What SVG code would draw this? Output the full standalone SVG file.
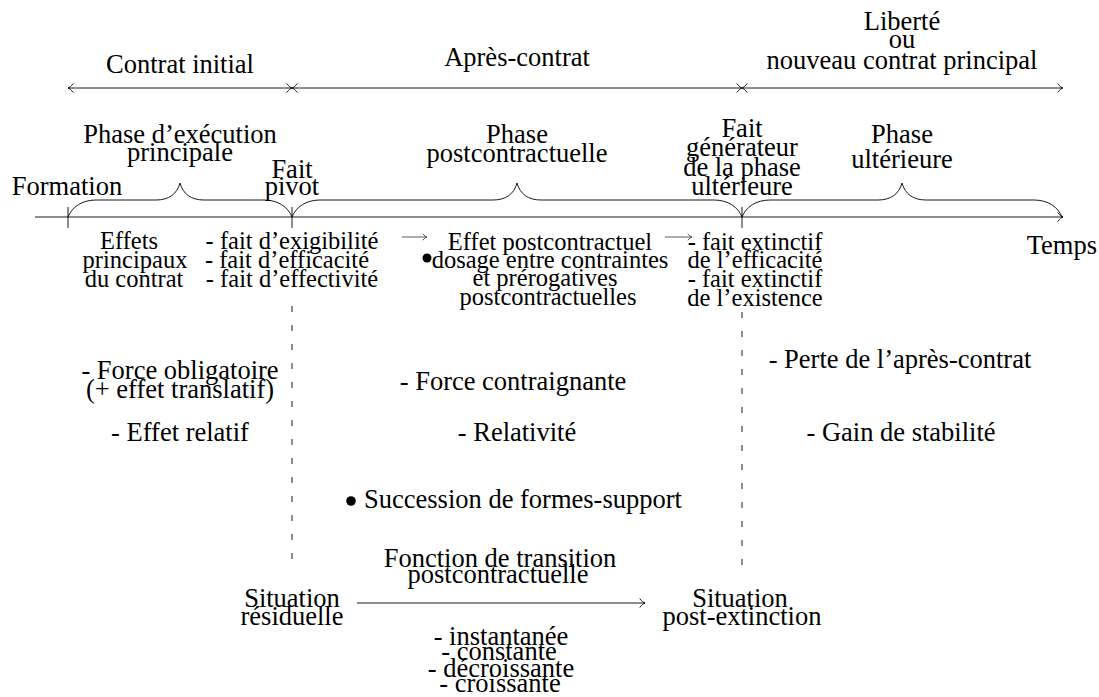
<svg xmlns="http://www.w3.org/2000/svg" width="1099" height="697" viewBox="0 0 1099 697">
<defs>
<marker id="to" viewBox="-7 -6 9 12" markerWidth="9" markerHeight="12" refX="0" refY="0" orient="auto-start-reverse" markerUnits="userSpaceOnUse">
<path d="M-5,-4.2 C-3.2,-1.6 -1.2,-0.4 0,0 C-1.2,0.4 -3.2,1.6 -5,4.2" fill="none" stroke="#000" stroke-width="0.9" stroke-linecap="round"/>
</marker>
<marker id="sm" viewBox="-6 -5 8 10" markerWidth="8" markerHeight="10" refX="0" refY="0" orient="auto" markerUnits="userSpaceOnUse">
<path d="M-4,-3 C-2.6,-1.2 -1,-0.3 0,0 C-1,0.3 -2.6,1.2 -4,3" fill="none" stroke="#333" stroke-width="0.8" stroke-linecap="round"/>
</marker>
</defs>
<style>
text{font-family:"Liberation Serif","Times New Roman",serif;font-size:26.5px;fill:#000;text-anchor:middle}
.s text{font-size:24.5px}
.ln{fill:none;stroke:#000;stroke-width:0.9}
.sm{fill:none;stroke:#333;stroke-width:0.8}
.dash{fill:none;stroke:#000;stroke-width:0.9;stroke-dasharray:6 13}
.dot{fill:#000}
</style>
<rect width="1099" height="697" fill="#fff"/>

<g id="connectors">
  <path class="ln" d="M68,88 H292" marker-start="url(#to)" marker-end="url(#to)"/>
  <path class="ln" d="M292,88 H742" marker-start="url(#to)" marker-end="url(#to)"/>
  <path class="ln" d="M742,88 H1063" marker-start="url(#to)" marker-end="url(#to)"/>
  <path class="ln" d="M35,217 H1063" marker-end="url(#to)"/>
  <path class="ln" d="M68,207 V228 M292,207 V228 M742,207 V228"/>
  <path class="ln" d="M68,217 C72,207 82,200 96,200 L156,200 C169,200 177,194 180,183 C183,194 191,200 204,200 L264,200 C278,200 288,207 292,217"/>
  <path class="ln" d="M292,217 C296,207 306,200 320,200 L493,200 C506,200 514,194 517,183 C520,194 528,200 541,200 L714,200 C728,200 738,207 742,217"/>
  <path class="ln" d="M742,217 C746,207 756,200 770,200 L878,200 C891,200 899,194 902,183 C905,194 913,200 926,200 L1034,200 C1048,200 1058,207 1062,217"/>
  <path class="dash" d="M292,306 V572"/>
  <path class="dash" d="M742,312 V566"/>
  <path class="sm" d="M402,237 H427" marker-end="url(#sm)"/>
  <path class="sm" d="M665,237 H692" marker-end="url(#sm)"/>
  <path class="ln" d="M357,603 H645" marker-end="url(#to)"/>
</g>

<g id="contrat-initial"><text x="180" y="73">Contrat initial</text></g>
<g id="apres-contrat"><text x="517" y="66">Après-contrat</text></g>
<g id="liberte"><text x="902" y="30">Liberté</text><text x="902" y="48">ou</text><text x="902" y="69">nouveau contrat principal</text></g>

<g id="formation"><text x="67" y="195">Formation</text></g>
<g id="phase-execution"><text x="180" y="143">Phase d’exécution</text><text x="180" y="161">principale</text></g>
<g id="fait-pivot"><text x="292" y="178">Fait</text><text x="292" y="195">pivot</text></g>
<g id="phase-post"><text x="517" y="143">Phase</text><text x="517" y="162">postcontractuelle</text></g>
<g id="fait-generateur"><text x="742" y="137">Fait</text><text x="742" y="156">générateur</text><text x="742" y="176">de la phase</text><text x="742" y="195">ultérieure</text></g>
<g id="phase-ulterieure"><text x="902" y="143">Phase</text><text x="902" y="168">ultérieure</text></g>
<g id="temps"><text x="1097" y="254" style="text-anchor:end">Temps</text></g>

<g id="effets-principaux" class="s"><text x="129" y="249">Effets</text><text x="135" y="268">principaux</text><text x="134" y="287">du contrat</text></g>
<g id="faits-pivot" class="s"><text x="292" y="249">- fait d’exigibilité</text><text x="287" y="268">- fait d’efficacité</text><text x="292" y="287">- fait d’effectivité</text></g>
<g id="effet-post" class="s"><text x="550" y="250">Effet postcontractuel</text><text x="550" y="268">dosage entre contraintes</text><text x="545" y="286">et prérogatives</text><text x="548" y="305">postcontractuelles</text></g>
<g id="bullet-dosage"><circle class="dot" cx="427" cy="258" r="4.5"/></g>
<g id="faits-extinctifs" class="s"><text x="755" y="250">- fait extinctif</text><text x="755" y="268">de l’efficacité</text><text x="755" y="287">- fait extinctif</text><text x="755" y="306">de l’existence</text></g>

<g id="force-obligatoire"><text x="180" y="379">- Force obligatoire</text><text x="180" y="398">(+ effet translatif)</text></g>
<g id="force-contraignante"><text x="513" y="390">- Force contraignante</text></g>
<g id="perte"><text x="900" y="368">- Perte de l’après-contrat</text></g>
<g id="effet-relatif"><text x="180" y="441">- Effet relatif</text></g>
<g id="relativite"><text x="517" y="441">- Relativité</text></g>
<g id="gain"><text x="901" y="441">- Gain de stabilité</text></g>
<g id="succession"><circle class="dot" cx="351" cy="501" r="4.8"/><text x="364" y="508" style="text-anchor:start">Succession de formes-support</text></g>

<g id="fonction"><text x="500" y="567">Fonction de transition</text><text x="498" y="583">postcontractuelle</text></g>
<g id="situation-residuelle"><text x="292" y="607">Situation</text><text x="292" y="625">résiduelle</text></g>
<g id="situation-post"><text x="740" y="607">Situation</text><text x="742" y="625">post-extinction</text></g>
<g id="types"><text x="501" y="645">- instantanée</text><text x="499" y="660">- constante</text><text x="501" y="677">- décroissante</text><text x="500" y="692">- croissante</text></g>
</svg>
